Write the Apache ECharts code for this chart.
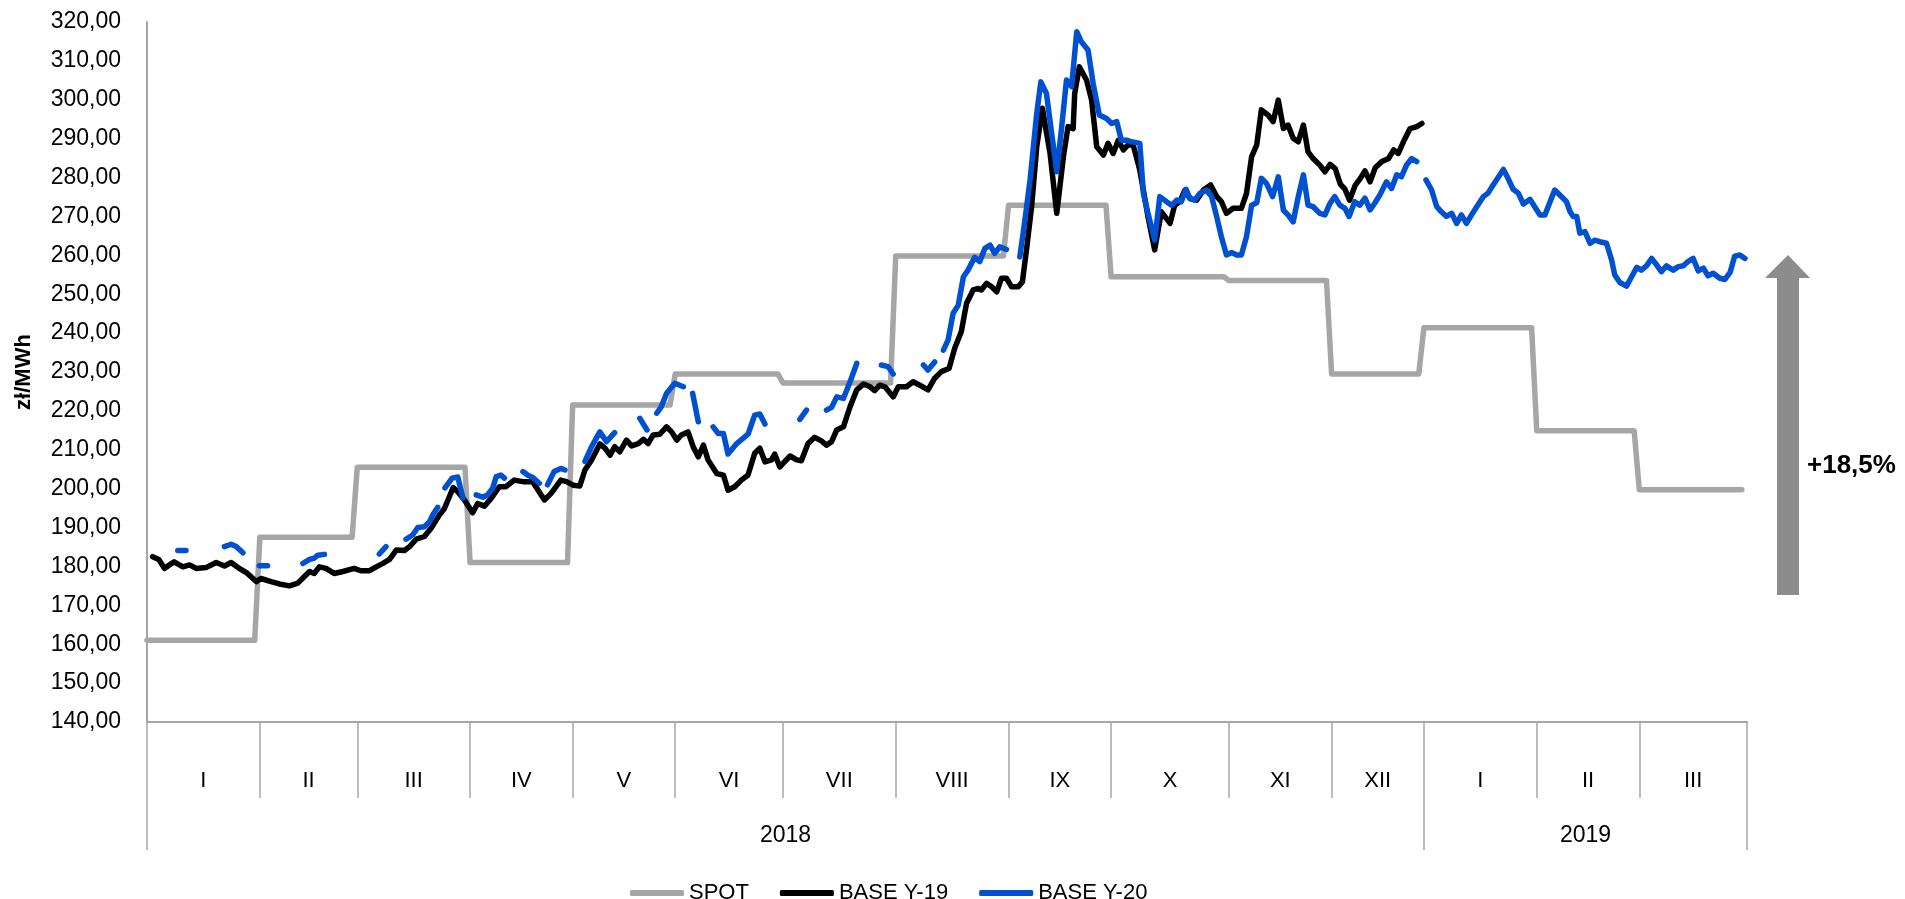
<!DOCTYPE html>
<html>
<head>
<meta charset="utf-8">
<title>SPOT / BASE Y-19 / BASE Y-20</title>
<script src="https://cdn.jsdelivr.net/npm/echarts@6/dist/echarts.min.js"></script>
<style>
	html, body { margin: 0; padding: 0; background: #fff; }
	#chart { width: 1905px; height: 899px; }
</style>
</head>
<body>
<div id="chart"></div>
<script>
	// trading days per month, Jan 2018 .. Mar 2019
	const monthDays = [22, 19, 22, 20, 20, 21, 22, 22, 20, 23, 20, 18, 22, 20, 21];
	const monthLabels = ['I', 'II', 'III', 'IV', 'V', 'VI', 'VII', 'VIII', 'IX', 'X', 'XI', 'XII', 'I', 'II', 'III'];
	const years = ['2018', '2019'];
	const yearMonths = [12, 3];

	// monthly spot level, zł/MWh
	const spotMonthly = [161.0, 187.5, 205.5, 181.0, 221.5, 229.5, 227.2, 259.8, 272.9, 254.5, 253.5, 229.5, 241.4, 214.9, 199.7];

	// [trading day, price]
	const y19Data = [
		[1.1, 182.5], [2.3, 181.8], [3.4, 179.5], [5.3, 181.2], [7.0, 179.9], [8.3, 180.4], [9.6, 179.5], [11.5, 179.7],
		[13.5, 181.0], [15.1, 180.1], [16.4, 181.0], [18.0, 179.5], [19.6, 178.2], [21.3, 176.1], [22.2, 176.9], [24.2, 176.1],
		[25.8, 175.5], [27.8, 175.0], [29.4, 175.7], [30.7, 177.4], [31.7, 178.7], [32.6, 178.2], [33.6, 179.9], [34.9, 179.5],
		[36.5, 178.2], [38.2, 178.7], [40.4, 179.5], [41.7, 178.9], [43.4, 178.9], [44.7, 179.9], [46.0, 180.8], [47.3, 181.8],
		[48.6, 184.2], [50.2, 184.1], [51.2, 185.1], [52.5, 187.0], [54.1, 187.7], [55.4, 189.8], [57.0, 193.2], [58.0, 194.9],
		[59.7, 200.3], [60.6, 199.2], [61.9, 197.1], [63.5, 193.8], [64.5, 196.2], [65.8, 195.5], [67.1, 197.5], [68.7, 200.5],
		[70.0, 200.5], [71.6, 202.2], [73.3, 201.8], [75.2, 201.8], [77.5, 197.1], [78.8, 198.8], [80.7, 202.2], [81.8, 201.8],
		[83.1, 200.9], [84.4, 200.7], [85.4, 204.8], [86.7, 207.4], [88.3, 211.5], [89.3, 210.4], [90.3, 208.6], [91.2, 210.8],
		[92.2, 209.5], [93.5, 212.5], [94.5, 211.0], [95.8, 211.6], [96.8, 212.7], [97.7, 211.6], [98.7, 213.8], [100.0, 214.0],
		[101.3, 215.9], [102.3, 214.6], [103.3, 212.5], [104.2, 213.8], [105.5, 214.6], [106.5, 210.8], [107.5, 208.2], [108.5, 211.2],
		[109.4, 207.4], [111.1, 203.9], [112.4, 203.5], [113.3, 199.6], [114.6, 200.5], [115.9, 202.2], [117.2, 203.5], [118.5, 209.1],
		[119.5, 210.4], [120.5, 206.9], [121.8, 207.4], [122.4, 208.9], [123.4, 205.6], [125.4, 208.4], [126.7, 207.4], [127.6, 207.2],
		[128.9, 211.6], [130.2, 213.2], [131.5, 212.3], [132.5, 211.2], [133.5, 212.1], [134.5, 215.1], [135.8, 215.9], [137.1, 221.1],
		[138.4, 225.4], [139.7, 226.9], [141.0, 226.2], [141.9, 225.2], [142.9, 226.6], [143.9, 226.2], [145.5, 223.6], [146.5, 226.2],
		[148.1, 226.2], [149.4, 227.5], [150.7, 226.6], [152.3, 225.4], [153.6, 228.4], [154.9, 230.1], [156.4, 230.9], [157.5, 236.1],
		[158.8, 240.4], [159.8, 247.6], [161.1, 251.1], [162.1, 251.5], [162.7, 251.1], [163.7, 252.8], [164.7, 251.9], [165.7, 250.6],
		[166.6, 254.1], [167.6, 254.1], [168.6, 251.9], [169.9, 251.9], [170.7, 253.2], [171.5, 261.4], [172.5, 272.5], [173.5, 287.9],
		[174.6, 297.8], [176.1, 286.2], [177.4, 270.8], [178.7, 285.4], [179.6, 293.1], [180.6, 292.6], [180.9, 301.6], [181.8, 308.5],
		[183.2, 305.1], [184.2, 299.9], [185.2, 287.9], [186.5, 285.8], [187.4, 288.8], [188.4, 286.2], [189.4, 289.6], [190.4, 287.1],
		[191.3, 288.4], [192.3, 288.4], [193.6, 281.9], [195.2, 269.9], [196.5, 261.4], [197.8, 271.2], [199.5, 268.2], [200.4, 272.9],
		[201.4, 273.8], [202.4, 276.8], [203.4, 274.6], [204.7, 274.2], [206.0, 276.8], [207.4, 278.1], [208.6, 275.1], [209.5, 273.8],
		[210.5, 270.8], [211.8, 272.1], [213.4, 272.1], [214.4, 275.9], [215.4, 285.4], [216.4, 288.4], [217.3, 297.4], [218.6, 296.1],
		[219.6, 294.4], [220.6, 299.9], [221.6, 292.6], [222.5, 293.5], [223.5, 290.1], [224.5, 289.2], [225.5, 293.5], [226.4, 286.6],
		[227.4, 284.9], [228.7, 283.2], [229.7, 281.5], [230.7, 283.4], [231.7, 282.3], [232.7, 278.3], [233.6, 277.0], [234.5, 274.2],
		[235.6, 278.0], [236.6, 279.8], [237.5, 281.7], [238.5, 278.9], [239.5, 282.5], [240.8, 284.1], [242.1, 284.9], [243.1, 287.1],
		[244.0, 286.2], [245.0, 289.2], [246.3, 292.6], [247.6, 293.1], [248.6, 293.9]
	];

	// '-' marks days without quotes (gaps in the line)
	const y20Data = [
		[6.0, 184.1], [7.6, 184.1], [8, '-'],
		[15.1, 185.1], [16.4, 185.7], [17.4, 185.1], [18.7, 183.5], [19, '-'],
		[21.9, 180.2], [23.5, 180.2], [24, '-'],
		[30.4, 180.8], [31.7, 181.8], [32.6, 182.1], [33.3, 182.9], [34.6, 183.1], [35, '-'],
		[45.3, 183.2], [46.6, 185.1], [47, '-'],
		[50.5, 187.0], [51.8, 188.1], [52.8, 190.0], [54.1, 190.2], [55.1, 191.5], [55.7, 193.2], [56.7, 195.2], [57, '-'],
		[58.1, 200.2], [59.5, 202.7], [60.6, 203.0], [61.6, 197.6], [62, '-'],
		[64.2, 198.4], [65.5, 197.8], [66.4, 198.4], [67.4, 200.1], [68.1, 203.1], [69.0, 203.5], [69.7, 202.7], [70, '-'],
		[73.3, 204.4], [74.2, 203.5], [75.2, 202.9], [76.5, 201.4], [77, '-'],
		[78.1, 201.0], [79.4, 204.4], [80.7, 205.2], [81.5, 204.8], [82, '-'],
		[85.4, 207.0], [86.7, 210.8], [88.3, 214.6], [89.6, 212.1], [91.2, 214.4], [92, '-'],
		[96.1, 218.1], [97.5, 215.1], [98, '-'],
		[99.4, 219.4], [100.3, 221.1], [101.3, 224.5], [102.9, 227.1], [104.6, 226.2], [105, '-'],
		[106.4, 224.5], [107.5, 217.2], [108, '-'],
		[110.4, 215.9], [111.4, 214.2], [112.4, 214.2], [113.3, 208.9], [115.0, 211.6], [117.2, 214.0], [118.5, 218.9], [119.5, 219.2],
		[120.5, 216.6], [121, '-'],
		[127.3, 217.8], [128.6, 220.2], [129, '-'],
		[132.5, 220.2], [133.5, 220.9], [134.5, 223.6], [135.8, 223.2], [137.1, 227.5], [138.4, 232.2], [139, '-'],
		[143.2, 231.8], [144.5, 231.4], [145.5, 229.5], [146, '-'],
		[151.4, 231.8], [152.3, 230.5], [153.6, 232.6], [154, '-'],
		[155.3, 235.6], [156.2, 238.2], [157.2, 245.1], [158.2, 247.2], [159.2, 254.5], [160.1, 256.2], [161.4, 259.5], [162.4, 258.4],
		[163.4, 261.8], [164.4, 262.6], [165.3, 260.5], [166.3, 262.2], [167.6, 261.5], [168, '-'],
		[170.2, 259.6], [171.2, 269.1], [172.2, 279.4], [173.5, 296.5], [174.3, 304.6], [175.4, 301.6], [176.4, 291.4], [177.4, 281.5],
		[178.3, 292.2], [179.3, 305.1], [180.3, 303.4], [181.3, 317.5], [182.2, 314.9], [183.5, 312.8], [184.5, 304.2], [185.7, 296.1],
		[187.1, 295.2], [188.1, 293.9], [189.1, 294.4], [190.0, 289.6], [191.0, 289.6], [192.0, 289.2], [193.6, 288.8], [194.3, 275.9],
		[195.2, 270.8], [196.5, 263.9], [197.5, 275.1], [198.8, 273.8], [199.8, 272.9], [200.8, 274.2], [201.7, 273.8], [202.6, 277.0],
		[203.4, 274.6], [204.3, 274.2], [205.3, 275.9], [206.6, 276.8], [207.6, 275.1], [208.6, 269.9], [209.5, 264.8], [210.5, 260.1],
		[211.5, 260.7], [212.5, 260.1], [213.4, 260.1], [214.4, 264.8], [215.4, 272.9], [216.4, 273.5], [217.3, 279.8], [218.3, 278.5],
		[219.5, 275.1], [220.6, 280.2], [221.6, 271.6], [222.5, 270.4], [223.5, 268.6], [224.5, 275.1], [225.5, 280.7], [226.4, 272.9],
		[227.4, 272.5], [228.7, 270.8], [229.7, 270.4], [230.7, 273.4], [231.6, 275.1], [232.6, 272.9], [233.6, 272.1], [234.4, 270.0],
		[235.5, 273.8], [236.5, 272.9], [237.5, 274.7], [238.5, 271.7], [239.4, 273.4], [240.4, 275.5], [241.7, 278.9], [242.7, 277.2],
		[243.7, 280.7], [244.6, 280.2], [245.6, 283.2], [246.6, 284.9], [247.6, 284.1], [248, '-'],
		[249.4, 279.4], [250.5, 276.8], [251.5, 272.5], [252.4, 271.2], [253.4, 270.0], [254.4, 270.8], [255.4, 268.2], [256.3, 270.4],
		[257.3, 268.2], [258.3, 270.4], [259.3, 272.5], [260.6, 275.1], [261.5, 276.0], [262.5, 278.1], [263.5, 280.1], [264.5, 282.1],
		[265.4, 279.8], [266.4, 277.0], [267.4, 276.0], [268.4, 273.2], [269.7, 274.4], [270.6, 272.5], [271.6, 270.4], [272.6, 270.4],
		[273.6, 273.8], [274.5, 276.8], [275.5, 275.5], [276.8, 273.8], [277.5, 271.2], [278.1, 270.0], [278.8, 270.0], [279.4, 265.7],
		[280.4, 266.1], [281.4, 263.1], [282.3, 263.9], [283.3, 263.5], [284.6, 263.1], [285.6, 258.8], [286.2, 255.0], [287.2, 253.0],
		[288.5, 252.1], [289.5, 254.5], [290.5, 256.9], [291.4, 256.2], [292.4, 257.3], [293.4, 259.2], [294.4, 257.5], [295.3, 255.8],
		[296.3, 257.3], [297.6, 256.2], [298.6, 257.1], [299.6, 257.3], [300.5, 258.4], [301.5, 259.2], [302.5, 256.0], [303.5, 256.7],
		[304.4, 254.7], [305.4, 255.4], [306.7, 254.1], [307.7, 253.8], [308.7, 255.6], [309.6, 259.8], [310.6, 260.1], [311.6, 259.2]
	];

	const font = "'Liberation Sans', Arial, sans-serif";

	// month boundaries / midpoints on the trading-day axis
	let bounds = [0];
	monthDays.forEach(d => bounds.push(bounds[bounds.length - 1] + d));
	let mids = monthDays.map((d, i) => bounds[i] + d / 2);
	let totalDays = bounds[bounds.length - 1];

	let yearBounds = [0], mi = 0;
	yearMonths.forEach(n => { mi += n; yearBounds.push(bounds[mi]); });
	let yearMids = years.map((y, i) => (yearBounds[i] + yearBounds[i + 1]) / 2);

	// spot is flat inside each month
	let spotData = [];
	spotMonthly.forEach((v, i) => {
		spotData.push([bounds[i], v]);
		spotData.push([bounds[i + 1] - 1, v]);
	});

	function lineSeries(name, data, color) {
		return {
			name: name,
			type: 'line',
			data: data,
			symbol: 'none',
			color: color,
			connectNulls: false,
			animation: false,
			lineStyle: { width: 5.5, color: color, cap: 'round', join: 'round' }
		};
	}

	let chart = echarts.init(document.getElementById('chart'));
	let option = {
		animation: false,
		textStyle: { fontFamily: font },
		grid: { left: 147, right: 158, top: 22, bottom: 177 },
		legend: {
			left: 625,
			top: 877,
			icon: 'roundRect',
			itemWidth: 54,
			itemHeight: 6,
			itemGap: 31,
			textStyle: { fontSize: 22, color: '#000', fontFamily: font },
			data: ['SPOT', 'BASE Y-19', 'BASE Y-20']
		},
		xAxis: [{
			type: 'value',
			min: 0,
			max: totalDays,
			axisLine: { show: true, lineStyle: { color: '#a6a6a6', width: 2 } },
			axisTick: { show: true, customValues: bounds, length: 76, lineStyle: { color: '#a6a6a6', width: 1.5 } },
			axisLabel: {
				customValues: mids,
				margin: 48,
				fontSize: 22,
				color: '#000',
				fontFamily: font,
				formatter: function(v) {
					let i = mids.findIndex(m => Math.abs(m - v) < 0.01);
					return i >= 0 ? monthLabels[i] : '';
				}
			},
			splitLine: { show: false }
		}, {
			type: 'value',
			position: 'bottom',
			min: 0,
			max: totalDays,
			axisLine: { show: false },
			axisTick: { show: true, customValues: yearBounds, length: 128, lineStyle: { color: '#a6a6a6', width: 1.5 } },
			axisLabel: {
				customValues: yearMids,
				margin: 102,
				fontSize: 23,
				color: '#000',
				fontFamily: font,
				formatter: function(v) {
					let i = yearMids.findIndex(m => Math.abs(m - v) < 0.01);
					return i >= 0 ? years[i] : '';
				}
			},
			splitLine: { show: false }
		}],
		yAxis: {
			type: 'value',
			min: 140,
			max: 320,
			interval: 10,
			name: 'zł/MWh',
			nameLocation: 'middle',
			nameGap: 112,
			nameTextStyle: { fontSize: 22, fontWeight: 'bold', color: '#000', fontFamily: font },
			axisLine: { show: true, lineStyle: { color: '#a6a6a6', width: 2 } },
			axisTick: { show: false },
			axisLabel: {
				margin: 26,
				fontSize: 23,
				color: '#000',
				fontFamily: font,
				formatter: v => v.toFixed(2).replace('.', ',')
			},
			splitLine: { show: false }
		},
		series: [
			lineSeries('SPOT', spotData, '#a6a6a6'),
			lineSeries('BASE Y-19', y19Data, '#000000'),
			lineSeries('BASE Y-20', y20Data, '#0050d2')
		],
		graphic: [{
			type: 'polygon',
			shape: { points: [[1765, 278], [1788, 255], [1810, 278], [1799, 278], [1799, 595], [1777, 595], [1777, 278]] },
			style: { fill: '#8c8c8c' }
		}, {
			type: 'text',
			left: 1807,
			top: 453,
			style: { text: '+18,5%', fontSize: 26, fontWeight: 'bold', fill: '#000', fontFamily: font }
		}]
	};
	chart.setOption(option);
</script>
</body>
</html>
